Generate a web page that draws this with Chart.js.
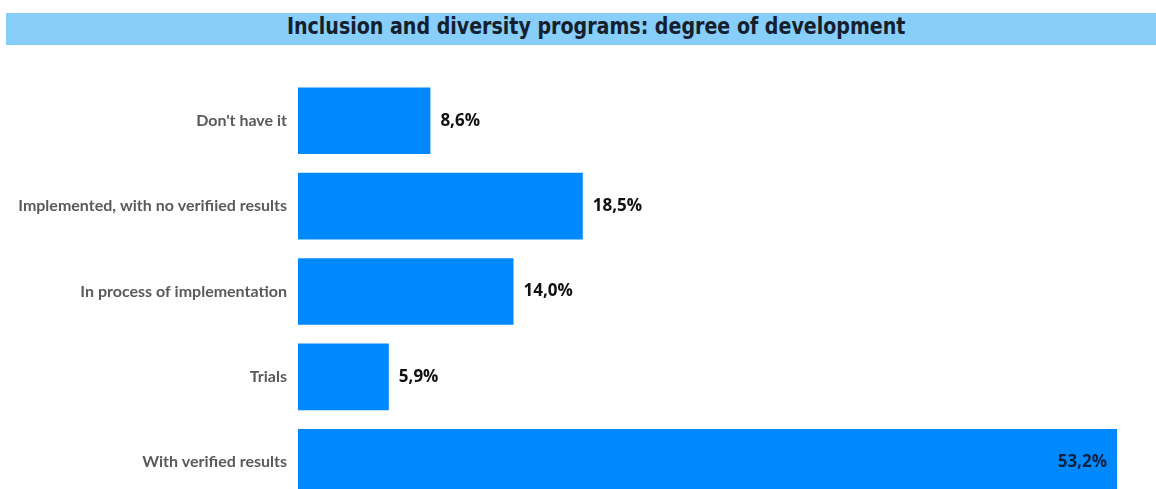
<!DOCTYPE html>
<html>
<head>
<meta charset="utf-8">
<script src="https://cdn.jsdelivr.net/npm/chart.js@4/dist/chart.umd.min.js"></script>
<style>
  html, body { margin: 0; padding: 0; background: #fff; overflow: hidden; }
  #wrap { position: relative; width: 1156px; height: 489px; overflow: hidden; }
  #title {
    position: absolute; left: 6px; right: 0; top: 13px; height: 32px;
    background: #87cefa; text-align: center; padding-left: 30px; box-sizing: border-box;
  }
  #title span {
    display: inline-block; transform: scaleX(0.92);
    font-family: "DejaVu Sans Condensed", "Liberation Sans Narrow", sans-serif;
    font-weight: bold; font-size: 23px; line-height: 27px; color: #14202c;
  }
  #box { position: absolute; left: 0; top: 0; width: 1156px; height: 519px; }
</style>
</head>
<body>
<div id="wrap">
  <div id="box"><canvas id="devChart"></canvas></div>
  <div id="title"><span>Inclusion and diversity programs: degree of development</span></div>
</div>
<script>
const CATEGORIES = [
    "Don't have it",
    'Implemented, with no verifiied results',
    'In process of implementation',
    'Trials',
    'With verified results'
];
const SHARES = [8.6, 18.5, 14.0, 5.9, 53.2]; // percent of companies

const BAR_COLOR = '#0089ff';

// formats 18.5 -> "18,5%"
function pct(v) {
    return v.toFixed(1).replace('.', ',') + '%';
}

// draws the value next to each bar, inside the end for the longest one
const valueLabels = {
    id: 'valueLabels',
    afterDatasetsDraw(chart) {
        const ctx = chart.ctx;
        const meta = chart.getDatasetMeta(0);
        const max = Math.max(...SHARES);
        ctx.save();
        ctx.font = 'bold 17px "Open Sans", sans-serif';
        ctx.textBaseline = 'middle';
        meta.data.forEach((bar, i) => {
            const v = SHARES[i];
            if (v === max) {
                ctx.fillStyle = '#0b2340';
                ctx.textAlign = 'right';
                ctx.fillText(pct(v), bar.x - 10, bar.y);
            } else {
                ctx.fillStyle = '#111';
                ctx.textAlign = 'left';
                ctx.fillText(pct(v), bar.x + 10, bar.y);
            }
        });
        ctx.restore();
    }
};

const ctx = document.getElementById('devChart').getContext('2d');
new Chart(ctx, {
    type: 'bar',
    data: {
        labels: CATEGORIES,
        datasets: [{
            data: SHARES,
            backgroundColor: BAR_COLOR,
            borderWidth: 0,
            categoryPercentage: 0.78,
            barPercentage: 1.0
        }]
    },
    options: {
        indexAxis: 'y',
        responsive: true,
        maintainAspectRatio: false,
        animation: false,
        layout: { padding: { top: 78, right: 39, left: 0, bottom: 14 } },
        scales: {
            x: { display: false, min: 0, max: 53.2 },
            y: {
                afterFit: (scale) => { scale.width = 298; },
                grid: { display: false },
                border: { display: false },
                ticks: {
                    padding: 3,
                    color: '#5a5a5a',
                    font: { family: 'Lato', weight: 'bold', size: 16 }
                }
            }
        },
        plugins: {
            legend: { display: false },
            tooltip: { enabled: false }
        }
    },
    plugins: [valueLabels]
});
</script>
</body>
</html>
